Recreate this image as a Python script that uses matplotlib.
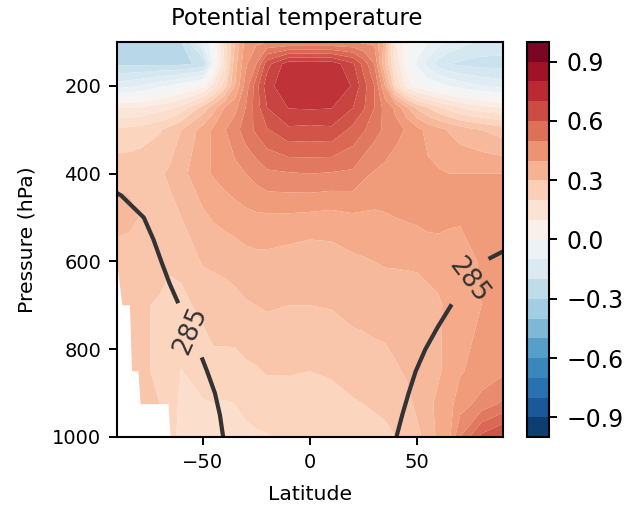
import matplotlib

matplotlib.use("Agg")

import matplotlib.pyplot as plt
import numpy as np
from matplotlib.cm import ScalarMappable
from matplotlib.colors import BoundaryNorm, ListedColormap

nan = np.nan

lats = [-90, -87.5, -84, -83, -80, -79, -70, -66, -65, -60, -50, -45, -40, -35, -30, -25, -20,
        -10, 0, 10, 20, 25, 30, 35, 40, 45, 50, 55, 60, 65, 70, 80, 90]
pressures = [100, 150, 200, 250, 300, 400, 500, 600, 700, 850, 925, 1000]

# correlation by pressure level, one value per latitude
corr_100 = [-.30, -.30, -.295, -.29, -.285, -.28, -.27, -.265, -.26, -.25, -.10, 0, .17, .30, .42, .44, .45,
            .45, .45, .45, .45, .44, .44, .33, .10, .03, -.02, -.05, -.08, -.105, -.13, -.16, -.17]
corr_150 = [-.26, -.26, -.26, -.26, -.26, -.26, -.26, -.26, -.26, -.26, -.24, -.03, .15, .33, .44, .50, .63,
            .73, .735, .73, .66, .58, .50, .30, .14, .02, -.06, -.12, -.17, -.20, -.21, -.22, -.22]
corr_200 = [-.12, -.12, -.11, -.11, -.10, -.10, -.06, -.05, -.05, -.02, .03, .12, .22, .35, .47, .58, .68,
            .74, .745, .74, .695, .62, .55, .40, .20, .08, .02, -.01, -.03, -.05, -.07, -.10, -.12]
corr_250 = [.10, .10, .10, .10, .105, .105, .13, .14, .145, .17, .27, .33, .40, .435, .50, .575, .65,
            .702, .705, .702, .65, .605, .55, .48, .44, .36, .29, .25, .21, .18, .15, .12, .10]
corr_300 = [.21, .21, .215, .215, .22, .22, .245, .265, .27, .30, .37, .41, .445, .48, .525, .56, .595,
            .64, .635, .64, .585, .555, .52, .49, .465, .445, .415, .385, .365, .345, .325, .30, .275]
corr_400 = [.285, .285, .285, .285, .29, .29, .295, .305, .31, .335, .385, .405, .42, .435, .45, .47, .49,
            .495, .50, .495, .49, .46, .445, .435, .425, .42, .415, .41, .405, .40, .40, .40, .40]
corr_500 = [.32, .32, .315, .31, .30, .295, .28, .285, .285, .30, .34, .355, .365, .375, .385, .39, .39,
            .39, .385, .38, .39, .39, .39, .395, .40, .405, .41, .42, .42, .41, .405, .43, .44]
corr_600 = [.275, .27, .27, .27, .265, .265, .265, .255, .255, .26, .305, .31, .315, .32, .33, .335, .335,
            .325, .315, .325, .34, .345, .35, .355, .355, .355, .355, .36, .365, .37, .38, .405, .42]
corr_700 = [nan, .255, .255, .255, .255, .255, .245, .24, .24, .24, .26, .27, .275, .285, .295, .30, .305,
            .30, .30, .303, .315, .32, .32, .32, .325, .33, .335, .34, .345, .36, .375, .40, .415]
corr_850 = [nan, nan, nan, .265, .26, .26, .24, .235, .235, .198, .225, .238, .235, .23, .24, .245, .255,
            .255, .25, .255, .27, .27, .28, .285, .295, .305, .32, .335, .345, .365, .395, .42, .44]
corr_925 = [nan, nan, nan, nan, nan, .255, .25, .235, .23, .185, .195, .20, .195, .20, .21, .215, .215,
            .22, .225, .235, .245, .25, .255, .26, .265, .285, .31, .34, .36, .385, .425, .47, .51]
corr_1000 = [nan, nan, nan, nan, nan, nan, nan, nan, .235, .17, .165, .165, .17, .18, .19, .195, .198,
             .21, .21, .22, .225, .23, .235, .24, .25, .265, .29, .315, .365, .39, .50, .615, .66]

# mean potential temperature (K), coarser grid
theta_lats = [-90, -80, -70, -60, -50, -40, 0, 40, 50, 60, 70, 80, 90]
theta_pressures = [100, 400, 450, 500, 550, 600, 650, 700, 750, 800, 850, 900, 950, 1000]
theta_100 = [350, 350, 350, 350, 350, 350, 380, 350, 350, 350, 350, 350, 350]
theta_400 = [289.4, 292, 295, 298, 301, 304, 320, 305, 303, 301, 299, 297, 295]
theta_450 = [284.4, 287.4, 290.4, 293.4, 296.4, 299.4, 318, 303, 301, 299, 297, 295, 293]
theta_500 = [281.25, 284.25, 287.25, 290.25, 293.25, 296.25, 316, 301, 299, 297, 295, 293, 291]
theta_550 = [279.9, 282.9, 285.9, 288.9, 291.9, 294.9, 314, 300, 297, 294, 291, 291, 288.2]
theta_600 = [278.8, 281.8, 284.8, 287.8, 290.8, 293.8, 312, 297.3, 294.3, 291.3, 288.3, 285.3, 282.3]
theta_650 = [277.65, 280.65, 283.65, 286.65, 289.65, 292.65, 310, 294.75, 291.75, 288.75, 285.75, 282.75, 279.75]
theta_700 = [276.3, 279.3, 282.3, 285.3, 288.3, 291.3, 308, 292.74, 289.74, 286.74, 283.74, 280.74, 277.74]
theta_750 = [274.95, 277.95, 280.95, 283.95, 286.95, 289.95, 306, 290.85, 287.85, 284.85, 281.85, 278.85, 275.85]
theta_800 = [273.6, 276.6, 279.6, 282.6, 285.6, 288.6, 304, 289.14, 286.14, 283.14, 280.14, 277.14, 274.14]
theta_850 = [272.4, 275.4, 278.4, 281.4, 284.4, 287.4, 303, 287.79, 284.79, 281.79, 278.79, 275.79, 272.79]
theta_900 = [271.3, 274.3, 277.3, 280.3, 283.3, 286.3, 302, 286.8, 283.8, 280.8, 277.8, 274.8, 271.8]
theta_950 = [270.6, 273.6, 276.6, 279.6, 282.6, 285.6, 301, 285.9, 282.9, 279.9, 276.9, 273.9, 270.9]
theta_1000 = [270.15, 273.15, 276.15, 279.15, 282.15, 285.15, 300, 285.09, 282.09, 279.09, 276.09, 273.09, 270.09]

colorbar_ticks = [-0.9, -0.6, -0.3, 0.0, 0.3, 0.6, 0.9]

corr = np.array([corr_100, corr_150, corr_200, corr_250, corr_300, corr_400,
                 corr_500, corr_600, corr_700, corr_850, corr_925, corr_1000])
corr = np.ma.masked_invalid(corr)
theta = np.array([theta_100, theta_400, theta_450, theta_500, theta_550, theta_600, theta_650,
                  theta_700, theta_750, theta_800, theta_850, theta_900, theta_950, theta_1000])

fig = plt.figure(figsize=(6.43, 5.07), dpi=100)
ax = fig.add_axes([117 / 643, 1 - 437 / 507, 386 / 643, 395 / 507])
cax = fig.add_axes([527 / 643, 1 - 437 / 507, 22 / 643, 395 / 507])

ax.contourf(lats, pressures, corr, levels=np.arange(-1, 1.001, 0.05),
            cmap="RdBu_r", vmin=-1, vmax=1, antialiased=True)
lines = ax.contour(theta_lats, theta_pressures, theta, levels=[285],
                   colors="#333333", linewidths=3)
ax.clabel(lines, fmt="%d", fontsize=18.5, inline=True,
          manual=[(-56, 757), (74, 643)])

ax.set_xlim(-90, 90)
ax.set_ylim(1000, 100)
ax.set_xticks([-50, 0, 50])
ax.set_yticks([200, 400, 600, 800, 1000])
ax.set_xlabel("Latitude", fontsize=14.7, labelpad=9.5)
ax.set_ylabel("Pressure (hPa)", fontsize=14.7, labelpad=11)
ax.set_title("Potential temperature", fontsize=16.5, pad=12, x=(297 - 117) / 386)
ax.tick_params(labelsize=14, length=6, width=1.4, pad=5.5)
for spine in ax.spines.values():
    spine.set_linewidth(1.5)

# colorbar has coarser bands than the filled map
bar_levels = np.arange(-1, 1.001, 0.1)
bar_colors = plt.get_cmap("RdBu_r")((bar_levels[:-1] + bar_levels[1:] + 2) / 4)
sm = ScalarMappable(norm=BoundaryNorm(bar_levels, 20), cmap=ListedColormap(bar_colors))
cbar = fig.colorbar(sm, cax=cax, ticks=colorbar_ticks, spacing="proportional", drawedges=False)
cbar.minorticks_off()
cbar.ax.tick_params(labelsize=17, length=6, width=1.4, pad=6.5)
cbar.outline.set_linewidth(1.5)

fig.savefig("out.png", dpi=100)
plt.close(fig)
